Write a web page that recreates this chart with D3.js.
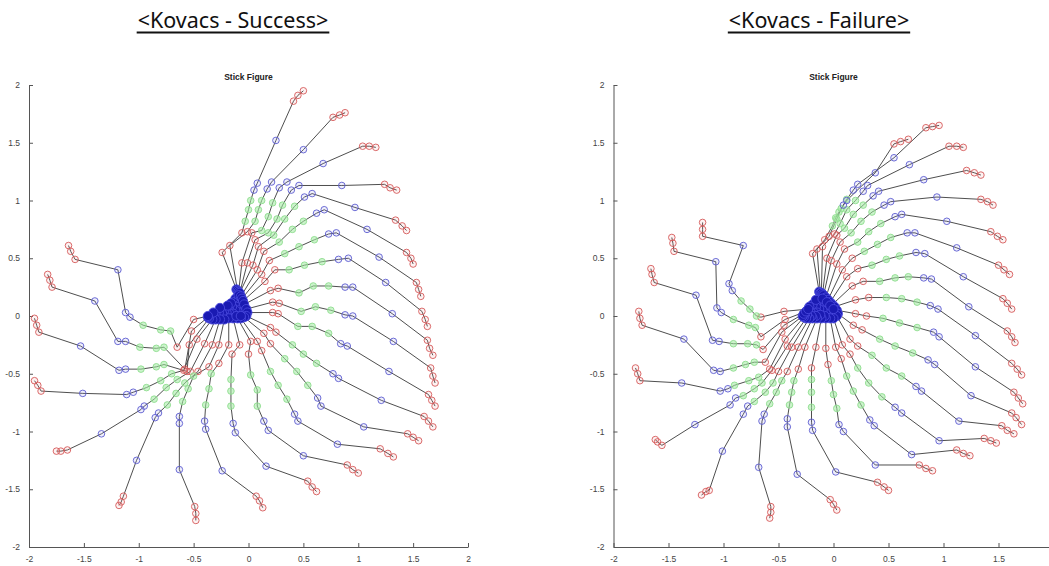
<!DOCTYPE html>
<html>
<head>
<meta charset="utf-8">
<script src="https://cdn.jsdelivr.net/npm/d3@7"></script>
<style>
  body { margin: 0; background: #fff; }
  svg { display: block; }
  .axis text { font-family: "Liberation Sans", Arial, sans-serif; font-size: 8.5px; fill: #444; }
  .axis path, .axis line { stroke: #555; }
</style>
</head>
<body>
<svg id="chart" width="1049" height="566"></svg>
<script>
// tick values of both plots
var axisTicks = [-2, -1.5, -1, -0.5, 0, 0.5, 1, 1.5, 2];

// what each joint of a stick is drawn as (hub = dark blue centre)
var jointKind = ["hub", "hub", "red", "red", "green", "green", "green", "blue", "blue", "blue", "red", "red", "red"];

// ---- Kovacs - Success : one entry per stick, clockwise from the top ----
var succHub = [[-0.12,0.15],[-0.13,0.12],[-0.10,0.12],[-0.08,0.10],[-0.11,0.08],[-0.07,0.06],[-0.05,0.04],[-0.09,0.03],[-0.12,0.05],[-0.15,0.08],[-0.18,0.06],[-0.14,0.02],[-0.17,0.02],[-0.20,0.03],[-0.22,0.05],[-0.24,0.02],[-0.27,0.03],[-0.30,0.01],[-0.16,0.11],[-0.19,0.09],[-0.11,0.00],[-0.07,0.00],[-0.26,0.07],[-0.32,0.03]];
var succBase = [[-0.11,0.23],[-0.10,0.22],[-0.09,0.21],[-0.08,0.20],[-0.09,0.18],[-0.07,0.17],[-0.06,0.15],[-0.05,0.13],[-0.04,0.10],[-0.02,0.06],[-0.01,0.03],[-0.02,0.00],[-0.04,-0.01],[-0.07,-0.02],[-0.10,-0.02],[-0.14,-0.02],[-0.18,-0.02],[-0.22,-0.03],[-0.26,-0.03],[-0.30,-0.03],[-0.33,-0.03],[-0.36,-0.02],[-0.37,-0.01],[-0.37,0.00]];
var succR1 = [[-0.24,0.55],[-0.17,0.61],[-0.06,0.46],[-0.01,0.46],[0.04,0.44],[0.08,0.40],[0.12,0.36],[0.15,0.30],[0.20,0.22],[0.22,0.12],[0.22,0.03],[0.20,-0.10],[0.14,-0.15],[0.08,-0.22],[0.02,-0.22],[-0.08,-0.25],[-0.18,-0.25],[-0.27,-0.25],[-0.33,-0.25],[-0.40,-0.24],[-0.47,-0.20],[-0.54,-0.25],[-0.52,-0.13],[-0.50,-0.03]];
var succR2 = [[-0.06,0.72],[-0.01,0.73],[0.03,0.72],[0.06,0.66],[0.09,0.60],[0.14,0.56],[0.19,0.48],[0.24,0.40],[0.27,0.24],[0.28,0.11],[0.27,0.02],[0.25,-0.14],[0.20,-0.24],[0.12,-0.30],[0.00,-0.33],[-0.15,-0.33],[-0.27,-0.41],[-0.36,-0.44],[-0.46,-0.48],[-0.53,-0.48],[-0.59,-0.47],[-0.56,-0.48],[-0.58,-0.46],[-0.65,-0.27]];
var succG1 = [[-0.03,0.82],[0.06,0.82],[0.12,0.74],[0.18,0.72],[0.23,0.70],[0.28,0.64],[0.33,0.54],[0.37,0.40],[0.46,0.20],[0.48,0.04],[0.45,-0.09],[0.40,-0.25],[0.33,-0.37],[0.20,-0.48],[0.02,-0.51],[-0.16,-0.55],[-0.34,-0.50],[-0.50,-0.52],[-0.58,-0.58],[-0.65,-0.55],[-0.70,-0.50],[-0.77,-0.42],[-0.77,-0.27],[-0.71,-0.13]];
var succG2 = [[0.00,0.92],[0.09,0.92],[0.18,0.86],[0.26,0.84],[0.33,0.84],[0.40,0.75],[0.46,0.60],[0.51,0.44],[0.59,0.26],[0.61,0.08],[0.58,-0.09],[0.50,-0.33],[0.44,-0.48],[0.27,-0.60],[0.08,-0.64],[-0.16,-0.65],[-0.36,-0.63],[-0.55,-0.63],[-0.66,-0.67],[-0.75,-0.62],[-0.80,-0.56],[-0.84,-0.44],[-0.84,-0.28],[-0.80,-0.12]];
var succG3 = [[0.02,1.00],[0.12,1.00],[0.22,0.98],[0.31,0.96],[0.42,0.95],[0.50,0.82],[0.60,0.66],[0.67,0.47],[0.73,0.26],[0.75,0.05],[0.73,-0.15],[0.62,-0.41],[0.54,-0.60],[0.35,-0.72],[0.08,-0.78],[-0.16,-0.78],[-0.39,-0.77],[-0.60,-0.74],[-0.74,-0.77],[-0.86,-0.72],[-0.93,-0.62],[-0.98,-0.46],[-0.99,-0.27],[-0.96,-0.08]];
var succB1 = [[0.05,1.09],[0.17,1.10],[0.28,1.11],[0.39,1.09],[0.51,1.03],[0.62,0.89],[0.73,0.71],[0.82,0.49],[0.88,0.25],[0.88,0.01],[0.84,-0.24],[0.77,-0.50],[0.63,-0.71],[0.42,-0.85],[0.14,-0.91],[-0.14,-0.93],[-0.40,-0.91],[-0.63,-0.87],[-0.82,-0.84],[-0.95,-0.78],[-1.05,-0.66],[-1.12,-0.46],[-1.12,-0.22],[-1.08,-0.01]];
var succB2 = [[0.08,1.15],[0.21,1.16],[0.35,1.16],[0.46,1.13],[0.58,1.06],[0.69,0.92],[0.80,0.72],[0.91,0.50],[0.95,0.25],[0.95,0.00],[0.90,-0.26],[0.82,-0.54],[0.66,-0.78],[0.45,-0.91],[0.18,-0.99],[-0.12,-1.01],[-0.39,-0.98],[-0.63,-0.93],[-0.85,-0.88],[-0.98,-0.81],[-1.11,-0.68],[-1.18,-0.47],[-1.19,-0.22],[-1.12,0.03]];
var succB3 = [[0.25,1.52],[0.50,1.44],[0.68,1.32],[0.85,1.13],[0.97,0.94],[1.08,0.75],[1.19,0.51],[1.25,0.29],[1.31,0.02],[1.32,-0.22],[1.28,-0.48],[1.21,-0.73],[1.05,-0.96],[0.81,-1.11],[0.50,-1.21],[0.16,-1.30],[-0.24,-1.34],[-0.63,-1.33],[-1.02,-1.25],[-1.34,-1.02],[-1.51,-0.67],[-1.53,-0.26],[-1.40,0.13],[-1.19,0.40]];
var succE1 = [[0.41,1.86],[0.77,1.72],[1.04,1.47],[1.24,1.14],[1.34,0.83],[1.44,0.55],[1.53,0.29],[1.58,0.04],[1.63,-0.21],[1.66,-0.45],[1.64,-0.68],[1.60,-0.87],[1.45,-1.02],[1.20,-1.15],[0.90,-1.29],[0.54,-1.43],[0.07,-1.56],[-0.49,-1.65],[-1.14,-1.56],[-1.65,-1.16],[-1.89,-0.65],[-1.91,-0.14],[-1.79,0.25],[-1.58,0.49]];
var succE2 = [[0.45,1.91],[0.83,1.74],[1.10,1.47],[1.29,1.11],[1.40,0.78],[1.48,0.50],[1.55,0.23],[1.61,-0.03],[1.65,-0.28],[1.68,-0.52],[1.67,-0.73],[1.64,-0.91],[1.50,-1.05],[1.27,-1.19],[0.95,-1.33],[0.58,-1.48],[0.10,-1.60],[-0.48,-1.71],[-1.16,-1.61],[-1.71,-1.17],[-1.92,-0.60],[-1.93,-0.08],[-1.81,0.31],[-1.62,0.56]];
var succE3 = [[0.50,1.95],[0.88,1.76],[1.16,1.46],[1.35,1.09],[1.44,0.74],[1.50,0.45],[1.57,0.17],[1.63,-0.09],[1.68,-0.34],[1.70,-0.58],[1.70,-0.78],[1.68,-0.96],[1.55,-1.08],[1.32,-1.22],[1.00,-1.36],[0.62,-1.52],[0.13,-1.66],[-0.48,-1.77],[-1.18,-1.64],[-1.75,-1.17],[-1.95,-0.56],[-1.95,-0.02],[-1.83,0.36],[-1.64,0.61]];

// ---- Kovacs - Failure ----
var failHub = [[-0.13,0.13],[-0.11,0.11],[-0.08,0.09],[-0.05,0.07],[-0.02,0.05],[-0.01,0.02],[-0.04,0.03],[-0.07,0.04],[-0.10,0.05],[-0.13,0.06],[-0.16,0.08],[-0.15,0.03],[-0.18,0.03],[-0.21,0.04],[-0.19,0.10],[-0.22,0.08],[-0.08,0.00],[-0.12,0.01],[-0.16,0.00],[-0.20,0.00],[-0.24,0.01],[-0.16,0.14],[-0.10,0.15],[-0.06,0.12],[-0.03,0.09],[0.00,0.06]];
var failBase = [[-0.13,0.21],[-0.12,0.20],[-0.11,0.20],[-0.10,0.19],[-0.09,0.18],[-0.07,0.16],[-0.05,0.14],[-0.03,0.12],[-0.01,0.10],[0.01,0.08],[0.03,0.05],[0.04,0.02],[0.03,0.00],[0.00,-0.02],[-0.03,-0.02],[-0.07,-0.02],[-0.11,-0.02],[-0.15,-0.02],[-0.19,-0.02],[-0.22,-0.02],[-0.25,-0.02],[-0.27,-0.01],[-0.28,0.00],[-0.27,0.02],[-0.25,0.04],[-0.23,0.06]];
var failR1 = [[-0.19,0.54],[-0.15,0.58],[-0.10,0.60],[-0.06,0.50],[-0.02,0.48],[0.03,0.45],[0.08,0.40],[0.12,0.34],[0.17,0.26],[0.20,0.14],[0.20,0.02],[0.18,-0.08],[0.15,-0.20],[0.08,-0.25],[0.02,-0.27],[-0.07,-0.28],[-0.16,-0.27],[-0.26,-0.27],[-0.32,-0.27],[-0.38,-0.27],[-0.42,-0.26],[-0.44,-0.20],[-0.47,-0.14],[-0.45,-0.08],[-0.44,-0.03],[-0.45,0.04]];
var failR2 = [[-0.08,0.66],[-0.04,0.69],[0.01,0.71],[0.03,0.70],[0.06,0.64],[0.10,0.58],[0.17,0.50],[0.22,0.41],[0.27,0.30],[0.32,0.16],[0.30,0.00],[0.26,-0.12],[0.22,-0.26],[0.15,-0.33],[0.07,-0.37],[-0.05,-0.42],[-0.20,-0.45],[-0.32,-0.46],[-0.42,-0.48],[-0.50,-0.48],[-0.56,-0.47],[-0.58,-0.46],[-0.62,-0.40],[-0.64,-0.29],[-0.66,-0.18],[-0.66,-0.01]];
var failG1 = [[-0.01,0.78],[0.03,0.84],[0.06,0.80],[0.10,0.76],[0.16,0.72],[0.22,0.64],[0.28,0.56],[0.35,0.44],[0.42,0.30],[0.48,0.16],[0.45,-0.02],[0.42,-0.20],[0.35,-0.34],[0.22,-0.45],[0.12,-0.52],[-0.02,-0.56],[-0.20,-0.55],[-0.36,-0.56],[-0.47,-0.56],[-0.55,-0.58],[-0.65,-0.58],[-0.68,-0.53],[-0.72,-0.40],[-0.70,-0.25],[-0.71,-0.10],[-0.70,0.00]];
var failG2 = [[0.02,0.85],[0.07,0.93],[0.12,0.92],[0.18,0.88],[0.25,0.82],[0.32,0.73],[0.40,0.62],[0.48,0.49],[0.56,0.33],[0.62,0.15],[0.60,-0.06],[0.56,-0.26],[0.48,-0.45],[0.32,-0.58],[0.18,-0.65],[0.00,-0.68],[-0.20,-0.66],[-0.38,-0.66],[-0.52,-0.66],[-0.62,-0.66],[-0.72,-0.63],[-0.77,-0.56],[-0.80,-0.42],[-0.78,-0.24],[-0.77,-0.08],[-0.76,0.06]];
var failG3 = [[0.05,0.90],[0.12,1.01],[0.20,1.00],[0.27,0.96],[0.35,0.90],[0.43,0.80],[0.52,0.68],[0.60,0.52],[0.68,0.34],[0.76,0.12],[0.76,-0.10],[0.72,-0.32],[0.62,-0.52],[0.44,-0.70],[0.25,-0.77],[0.03,-0.80],[-0.20,-0.79],[-0.40,-0.77],[-0.58,-0.76],[-0.72,-0.74],[-0.82,-0.69],[-0.90,-0.60],[-0.91,-0.45],[-0.91,-0.24],[-0.91,-0.03],[-0.84,0.13]];
var failB1 = [[0.09,0.96],[0.18,1.09],[0.27,1.08],[0.36,1.04],[0.46,0.96],[0.56,0.86],[0.67,0.72],[0.75,0.55],[0.82,0.33],[0.88,0.09],[0.91,-0.14],[0.86,-0.38],[0.75,-0.61],[0.56,-0.79],[0.33,-0.90],[0.05,-0.94],[-0.20,-0.92],[-0.42,-0.89],[-0.63,-0.85],[-0.78,-0.78],[-0.89,-0.71],[-0.96,-0.63],[-1.03,-0.48],[-1.04,-0.22],[-1.02,0.03],[-0.92,0.22]];
var failB2 = [[0.12,1.00],[0.22,1.14],[0.31,1.13],[0.41,1.08],[0.52,0.99],[0.62,0.88],[0.74,0.72],[0.83,0.54],[0.89,0.32],[0.95,0.06],[0.96,-0.18],[0.92,-0.42],[0.80,-0.65],[0.62,-0.84],[0.37,-0.95],[0.09,-1.00],[-0.19,-0.99],[-0.42,-0.96],[-0.65,-0.91],[-0.82,-0.85],[-0.94,-0.77],[-1.03,-0.65],[-1.09,-0.47],[-1.10,-0.21],[-1.06,0.07],[-0.95,0.28]];
var failB3 = [[0.38,1.24],[0.55,1.37],[0.69,1.31],[0.82,1.18],[0.94,1.03],[1.03,0.82],[1.12,0.59],[1.18,0.34],[1.23,0.08],[1.29,-0.17],[1.29,-0.44],[1.25,-0.69],[1.14,-0.91],[0.96,-1.08],[0.71,-1.20],[0.38,-1.29],[0.02,-1.35],[-0.33,-1.37],[-0.68,-1.31],[-1.01,-1.17],[-1.26,-0.94],[-1.38,-0.58],[-1.36,-0.20],[-1.25,0.18],[-1.07,0.47],[-0.82,0.61]];
var failE1 = [[0.55,1.49],[0.84,1.63],[1.05,1.47],[1.21,1.26],[1.34,1.01],[1.43,0.73],[1.50,0.44],[1.54,0.15],[1.58,-0.13],[1.62,-0.41],[1.64,-0.66],[1.62,-0.84],[1.53,-0.95],[1.37,-1.06],[1.12,-1.16],[0.78,-1.29],[0.40,-1.44],[-0.03,-1.59],[-0.57,-1.65],[-1.13,-1.51],[-1.56,-1.12],[-1.76,-0.56],[-1.74,-0.08],[-1.63,0.29],[-1.45,0.56],[-1.19,0.69]];
var failE2 = [[0.61,1.51],[0.90,1.64],[1.12,1.47],[1.28,1.24],[1.40,0.99],[1.49,0.69],[1.55,0.40],[1.58,0.11],[1.62,-0.18],[1.67,-0.46],[1.68,-0.71],[1.66,-0.88],[1.58,-0.99],[1.43,-1.08],[1.18,-1.19],[0.84,-1.32],[0.46,-1.48],[0.00,-1.63],[-0.57,-1.70],[-1.16,-1.52],[-1.60,-1.09],[-1.78,-0.50],[-1.76,-0.02],[-1.65,0.36],[-1.46,0.63],[-1.19,0.75]];
var failE3 = [[0.68,1.53],[0.96,1.65],[1.18,1.46],[1.34,1.22],[1.45,0.96],[1.54,0.66],[1.60,0.36],[1.62,0.06],[1.65,-0.23],[1.71,-0.51],[1.72,-0.76],[1.71,-0.94],[1.64,-1.02],[1.48,-1.10],[1.24,-1.21],[0.90,-1.34],[0.50,-1.51],[0.03,-1.68],[-0.58,-1.75],[-1.20,-1.55],[-1.62,-1.07],[-1.80,-0.45],[-1.77,0.04],[-1.66,0.41],[-1.47,0.68],[-1.19,0.81]];

var svg = d3.select("#chart");
var W = +svg.attr("width");

// turn joint arrays into one point list per stick
function sticks(joints) {
  return joints[0].map(function(_, i) {
    return joints.map(function(j, k) { return { x: j[i][0], y: j[i][1], kind: jointKind[k] }; });
  });
}

var markStyle = {
  red:   { r: 3.3, stroke: "#d65a5a", fill: "rgba(235,150,150,0.12)" },
  green: { r: 3.3, stroke: "#8fdc8f", fill: "rgba(160,235,160,0.55)" },
  blue:  { r: 3.3, stroke: "#5c5cd0", fill: "rgba(150,150,235,0.15)" },
  hub:   { r: 4.6, stroke: "#4848dd", fill: "#1a1ab2" }
};

function drawPanel(p) {
  var g = svg.append("g");

  // heading with a thick underline
  var head = g.append("text")
    .attr("x", p.headX).attr("y", 28)
    .attr("text-anchor", "middle")
    .style("font-family", "'Noto Sans', 'Open Sans', sans-serif")
    .style("font-size", "21.5px")
    .style("fill", "#111")
    .text(p.heading);
  var hw = head.node().getComputedTextLength();
  g.append("line")
    .attr("x1", p.headX - hw / 2 - 1).attr("x2", p.headX + hw / 2 + 1)
    .attr("y1", 32.5).attr("y2", 32.5)
    .attr("stroke", "#111").attr("stroke-width", 2);

  var x = d3.scaleLinear().domain([-2, 2]).range(p.xRange);
  var y = d3.scaleLinear().domain([-2, 2]).range([547, 85]);

  g.append("text")
    .attr("x", x(0)).attr("y", 80)
    .attr("text-anchor", "middle")
    .style("font-family", "'Liberation Sans', Arial, sans-serif")
    .style("font-size", "8.5px").style("font-weight", "bold").style("fill", "#222")
    .text("Stick Figure");

  // ticks that fall past the page edge are not labelled
  var xTicks = axisTicks.filter(function(t) { return x(t) < W - 4; });
  g.append("g").attr("class", "axis")
    .attr("transform", "translate(0," + y(-2) + ")")
    .call(d3.axisBottom(x).tickValues(xTicks).tickSizeInner(-4).tickSizeOuter(0)
      .tickPadding(9).tickFormat(function(d) { return String(d); }));
  g.append("g").attr("class", "axis")
    .attr("transform", "translate(" + x(-2) + ",0)")
    .call(d3.axisLeft(y).tickValues(axisTicks).tickSizeInner(-4).tickSizeOuter(0)
      .tickPadding(9).tickFormat(function(d) { return String(d); }));

  var data = sticks(p.joints);
  var line = d3.line().x(function(d) { return x(d.x); }).y(function(d) { return y(d.y); });

  g.append("g").selectAll("path")
    .data(data).enter().append("path")
    .attr("d", line)
    .attr("fill", "none").attr("stroke", "#3a3a3a").attr("stroke-width", 0.9);

  var pts = [].concat.apply([], data);
  ["red", "green", "blue", "hub"].forEach(function(kind) {
    var s = markStyle[kind];
    g.append("g").selectAll("circle")
      .data(pts.filter(function(d) { return d.kind === kind; }))
      .enter().append("circle")
      .attr("cx", function(d) { return x(d.x); })
      .attr("cy", function(d) { return y(d.y); })
      .attr("r", s.r)
      .attr("fill", s.fill).attr("stroke", s.stroke).attr("stroke-width", 0.9);
  });
}

drawPanel({
  heading: "<Kovacs - Success>", headX: 233, xRange: [29, 468],
  joints: [succHub, succBase, succR1, succR2, succG1, succG2, succG3, succB1, succB2, succB3, succE1, succE2, succE3]
});
drawPanel({
  heading: "<Kovacs - Failure>", headX: 819, xRange: [613.5, 1053.5],
  joints: [failHub, failBase, failR1, failR2, failG1, failG2, failG3, failB1, failB2, failB3, failE1, failE2, failE3]
});
</script>
</body>
</html>
